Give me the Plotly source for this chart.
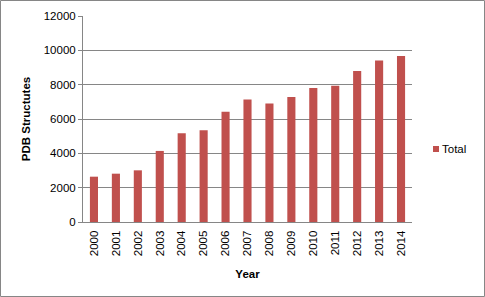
import plotly.graph_objects as go

years = ["2000", "2001", "2002", "2003", "2004", "2005", "2006", "2007",
         "2008", "2009", "2010", "2011", "2012", "2013", "2014"]
totals = [2640, 2815, 3010, 4140, 5170, 5340, 6420, 7140,
          6910, 7280, 7800, 7940, 8800, 9410, 9670]
y_ticks = [0, 2000, 4000, 6000, 8000, 10000, 12000]
y_tick_labels = ["0", "2000", "4000", "6000", "8000", "10000", "12000"]
series_name = "Total"

W, H = 485, 297
L, R, T, B = 83, 73, 16, 75
pw, ph = W - L - R, H - T - B
BAR_COLOR = "#C0504D"

FONT = "Liberation Sans"


def px_x(x):
    return (x - L) / pw


def px_y(y):
    return (T + ph - y) / ph


fig = go.Figure()
fig.add_trace(go.Bar(x=years, y=totals, name=series_name, showlegend=False,
                     marker=dict(color=BAR_COLOR, line=dict(width=0))))

fig.update_layout(
    width=W, height=H,
    margin=dict(l=L, r=R, t=T, b=B, autoexpand=False),
    paper_bgcolor="white", plot_bgcolor="white",
    bargap=0.63,
    font=dict(family=FONT, size=11.5, color="black"),
    showlegend=False,
    xaxis=dict(type="category", tickangle=-90, showgrid=False, automargin=False,
               showline=True, linecolor="#868686", linewidth=1,
               ticks="outside", ticklen=3, tickcolor="rgba(0,0,0,0)",
               tickfont=dict(size=11.5),
               title=dict(text="<b>Year</b>", font=dict(size=11.5), standoff=14)),
    yaxis=dict(range=[0, 12000], tickvals=y_ticks, ticktext=y_tick_labels,
               showgrid=True, automargin=False,
               gridcolor="#868686", gridwidth=1,
               showline=True, linecolor="#868686", linewidth=1,
               ticks="outside", ticklen=4, tickcolor="#868686",
               tickfont=dict(size=11.5), zeroline=False,
               title=dict(text="<b>PDB Structutes</b>", font=dict(size=11.5), standoff=10)),
    shapes=[
        dict(type="rect", xref="paper", yref="paper",
             x0=px_x(0.5), x1=px_x(W - 0.5),
             y0=px_y(H - 0.5), y1=px_y(0.5),
             line=dict(color="#868686", width=1), fillcolor="rgba(0,0,0,0)"),
        dict(type="rect", xref="paper", yref="paper",
             x0=px_x(433), x1=px_x(439), y0=px_y(152), y1=px_y(146),
             line=dict(width=0), fillcolor=BAR_COLOR),
    ],
    annotations=[
        dict(text=series_name, xref="paper", yref="paper",
             x=px_x(440), y=px_y(149), xanchor="left", yanchor="middle",
             showarrow=False, font=dict(size=11.5)),
    ],
)

fig.write_html("out.html", post_script="document.body.style.margin='0';",
               config={"displayModeBar": False})
